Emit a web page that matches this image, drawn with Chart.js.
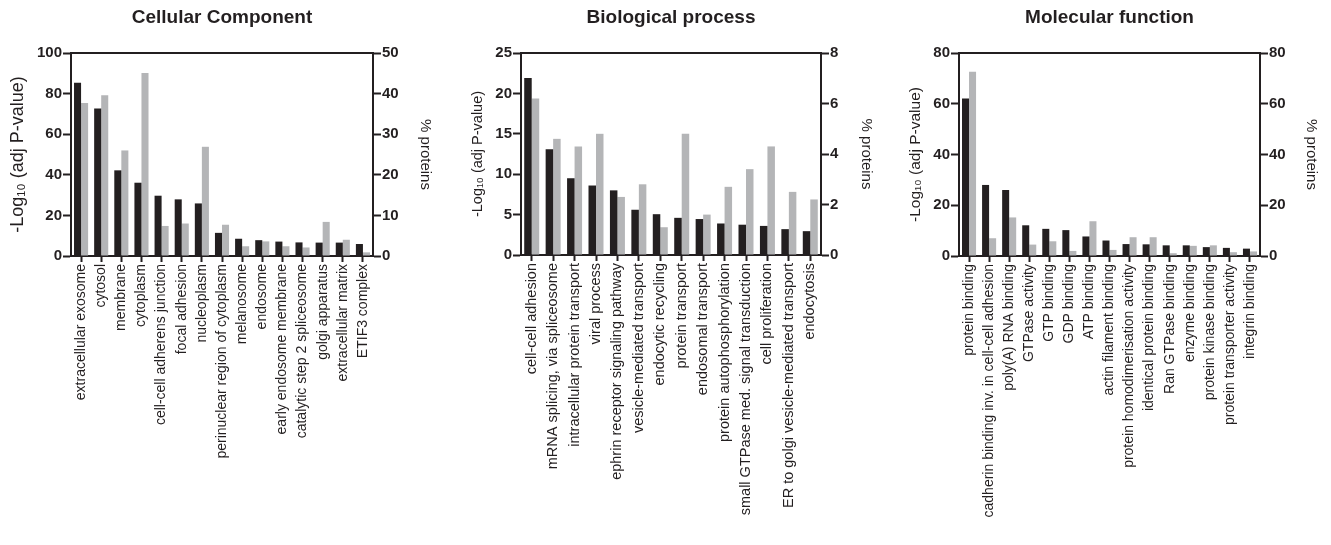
<!DOCTYPE html>
<html>
<head>
<meta charset="utf-8">
<script src="https://cdn.jsdelivr.net/npm/chart.js@4.4.1/dist/chart.umd.min.js"></script>
<style>
  html, body { margin: 0; padding: 0; background: #fff; }
  body { width: 1331px; height: 545px; position: relative; overflow: hidden; }
  canvas { position: absolute; top: 0; }
</style>
</head>
<body>
<canvas id="cc" width="440" height="545" style="left:0px"></canvas>
<canvas id="bp" width="440" height="545" style="left:440px"></canvas>
<canvas id="mf" width="451" height="545" style="left:880px"></canvas>
<script>
// Cellular Component
const ccLabels = ["extracellular exosome", "cytosol", "membrane", "cytoplasm", "cell-cell adherens junction",
    "focal adhesion", "nucleoplasm", "perinuclear region of cytoplasm", "melanosome", "endosome",
    "early endosome membrane", "catalytic step 2 spliceosome", "golgi apparatus", "extracellular matrix", "ETIF3 complex"];
const ccLog = [85.3, 72.6, 42.2, 36.1, 29.7, 27.9, 25.9, 11.4, 8.5, 7.8, 7.1, 6.7, 6.6, 6.6, 5.9];
const ccPct = [37.7, 39.6, 26.0, 45.1, 7.4, 8.0, 26.9, 7.7, 2.4, 3.6, 2.4, 2.1, 8.4, 4.0, 0.9];

// Biological process
const bpLabels = ["cell-cell adhesion", "mRNA splicing, via spliceosome", "intracellular protein transport", "viral process",
    "ephrin receptor signaling pathway", "vesicle-mediated transport", "endocytic recycling", "protein transport",
    "endosomal transport", "protein autophosphorylation", "small GTPase med. signal transduction", "cell proliferation",
    "ER to golgi vesicle-mediated transport", "endocytosis"];
const bpLog = [21.9, 13.1, 9.5, 8.6, 8.0, 5.6, 5.05, 4.6, 4.45, 3.9, 3.75, 3.6, 3.2, 2.95];
const bpPct = [6.2, 4.6, 4.3, 4.8, 2.3, 2.8, 1.1, 4.8, 1.6, 2.7, 3.4, 4.3, 2.5, 2.2];

// Molecular function
const mfLabels = ["protein binding", "cadherin binding inv. in cell-cell adhesion", "poly(A) RNA binding", "GTPase activity",
    "GTP binding", "GDP binding", "ATP binding", "actin filament binding", "protein homodimerisation activity",
    "identical protein binding", "Ran GTPase binding", "enzyme binding", "protein kinase binding",
    "protein transporter activity", "integrin binding"];
const mfLog = [62.1, 28.0, 26.0, 12.1, 10.7, 10.2, 7.7, 6.1, 4.7, 4.6, 4.2, 4.2, 3.5, 3.2, 2.9];
const mfPct = [72.6, 7.0, 15.2, 4.5, 5.8, 2.0, 13.7, 2.4, 7.4, 7.4, 1.1, 4.0, 4.2, 1.5, 1.8];

const INK = "#231f20";
const GREY = "#b4b5b7";
const FONT = "'Liberation Sans', Arial, Helvetica, sans-serif";

// title over the plot + top frame line
const panelDecor = {
    id: "panelDecor",
    afterDraw(chart, args, opts) {
        const ctx = chart.ctx;
        const a = chart.chartArea;
        ctx.save();
        ctx.strokeStyle = INK;
        ctx.lineWidth = 2;
        ctx.beginPath();
        ctx.moveTo(a.left, a.top);
        ctx.lineTo(a.right, a.top);
        ctx.stroke();
        ctx.fillStyle = INK;
        ctx.font = "bold 19px " + FONT;
        ctx.textAlign = "center";
        ctx.textBaseline = "middle";
        ctx.fillText(opts.text, (a.left + a.right) / 2, 18);
        ctx.restore();
    }
};

function makePanel(id, cfg) {
    const fixW = w => (scale => { scale.width = w; });
    return new Chart(document.getElementById(id), {
        type: "bar",
        data: {
            labels: cfg.labels,
            datasets: [
                { data: cfg.log, backgroundColor: INK, yAxisID: "y", borderWidth: 0 },
                { data: cfg.pct, backgroundColor: GREY, yAxisID: "y2", borderWidth: 0 }
            ]
        },
        options: {
            responsive: false,
            animation: false,
            events: [],
            layout: { padding: { top: 53, left: 0, right: 0, bottom: 0 } },
            datasets: { bar: { categoryPercentage: 0.7, barPercentage: 1.0 } },
            plugins: {
                legend: { display: false },
                tooltip: { enabled: false },
                panelDecor: { text: cfg.title }
            },
            scales: {
                x: {
                    offset: true,
                    afterFit: scale => { scale.height = cfg.xH; },
                    grid: { display: true, drawOnChartArea: false, offset: false, tickLength: 6, tickWidth: 2, tickColor: INK },
                    border: { display: true, color: INK, width: 2 },
                    ticks: {
                        autoSkip: false, minRotation: 90, maxRotation: 90, padding: 2,
                        color: INK, font: { family: FONT, size: cfg.labelSize }
                    }
                },
                y: {
                    position: "left",
                    min: 0, max: cfg.yMax,
                    afterFit: fixW(cfg.leftW),
                    grid: { display: true, drawOnChartArea: false, tickLength: 8, tickWidth: 2, tickColor: INK },
                    border: { display: true, color: INK, width: 2 },
                    ticks: { stepSize: cfg.yStep, padding: 1, color: INK, font: { family: FONT, size: 15, weight: "bold" } },
                    title: {
                        display: true, text: "-Log\u2081\u2080 (adj P-value)", color: INK,
                        padding: { top: cfg.leftTitlePad, bottom: 0 },
                        font: { family: FONT, size: cfg.axisTitleSize }
                    }
                },
                y2: {
                    position: "right",
                    min: 0, max: cfg.y2Max,
                    afterFit: fixW(cfg.rightW),
                    grid: { display: true, drawOnChartArea: false, tickLength: 8, tickWidth: 2, tickColor: INK },
                    border: { display: true, color: INK, width: 2 },
                    ticks: { stepSize: cfg.y2Step, padding: 1, color: INK, font: { family: FONT, size: 15, weight: "bold" } },
                    title: {
                        display: true, text: "% proteins", color: INK,
                        padding: { top: cfg.rightTitlePad, bottom: 0 },
                        font: { family: FONT, size: 15 }
                    }
                }
            }
        },
        plugins: [panelDecor]
    });
}

makePanel("cc", {
    title: "Cellular Component", labels: ccLabels, log: ccLog, pct: ccPct,
    yMax: 100, yStep: 20, y2Max: 50, y2Step: 10, xH: 289,
    leftW: 71, rightW: 67, leftTitlePad: 7, rightTitlePad: 6,
    axisTitleSize: 18, labelSize: 14
});
makePanel("bp", {
    title: "Biological process", labels: bpLabels, log: bpLog, pct: bpPct,
    yMax: 25, yStep: 5, y2Max: 8, y2Step: 2, xH: 290,
    leftW: 81, rightW: 59, leftTitlePad: 29, rightTitlePad: 5,
    axisTitleSize: 14.5, labelSize: 14.5
});
makePanel("mf", {
    title: "Molecular function", labels: mfLabels, log: mfLog, pct: mfPct,
    yMax: 80, yStep: 20, y2Max: 80, y2Step: 20, xH: 289,
    leftW: 79, rightW: 71, leftTitlePad: 26, rightTitlePad: 11,
    axisTitleSize: 15.5, labelSize: 14
});
</script>
</body>
</html>
